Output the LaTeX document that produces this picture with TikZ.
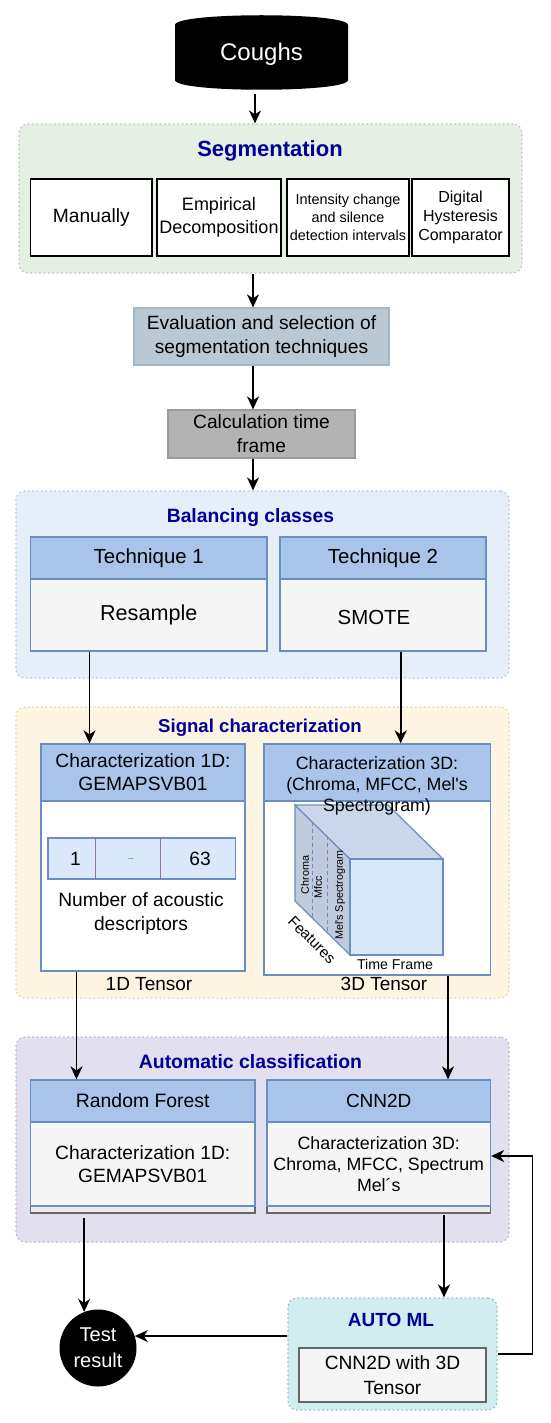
\documentclass[tikz,border=0pt]{standalone}
\usepackage{fontspec}
\setmainfont{Liberation Sans}
\usetikzlibrary{arrows.meta}
\newcommand\fz[2]{\fontsize{#1}{#2}\selectfont}
\definecolor{ttlblue}{HTML}{000099}
\definecolor{segfill}{HTML}{E6EFE3}
\definecolor{segline}{HTML}{B9C7B6}
\definecolor{balfill}{HTML}{E6EEFA}
\definecolor{balline}{HTML}{B4C3DA}
\definecolor{sigfill}{HTML}{FDF5E2}
\definecolor{sigline}{HTML}{DDD3B6}
\definecolor{autofill}{HTML}{E2E0EF}
\definecolor{autoline}{HTML}{B6B3CB}
\definecolor{mlfill}{HTML}{D0EDEF}
\definecolor{mlline}{HTML}{8EBFC3}
\definecolor{hdrfill}{HTML}{A9C4EB}
\definecolor{hdrline}{HTML}{6C8EBF}
\definecolor{bodyfill}{HTML}{F5F5F5}
\definecolor{evalfill}{HTML}{BAC8D3}
\definecolor{evalline}{HTML}{A5B6C4}
\definecolor{calcfill}{HTML}{B3B3B3}
\definecolor{calcline}{HTML}{9A9A9A}
\definecolor{lightblue}{HTML}{DAE8FC}
\definecolor{cubetop}{HTML}{CAD7EB}
\definecolor{cubeleft}{HTML}{BFCADC}
\definecolor{divline}{HTML}{9673A6}
\definecolor{darkgray}{HTML}{666666}
\definecolor{stripfill}{HTML}{EDEDED}
\begin{document}
\begin{tikzpicture}[x=1pt,y=-1pt,
  cont/.style={rounded corners=9pt, line width=1.2pt, dash pattern=on 1pt off 3.4pt, line cap=round, inner sep=0pt},
  ttl/.style={text=ttlblue, inner sep=0pt},
  sbox/.style={draw=black, line width=1.5pt, fill=white, minimum height=77pt, align=center, inner sep=0pt},
  hdr/.style={draw=hdrline, fill=hdrfill, line width=1.3pt, align=center, inner sep=0pt},
  bdy/.style={draw=hdrline, fill=bodyfill, line width=1.3pt, align=center, inner sep=0pt},
  wbdy/.style={draw=hdrline, fill=white, line width=1.3pt, align=center, inner sep=0pt},
  strip/.style={draw=darkgray, fill=stripfill, line width=1.3pt, inner sep=0pt},
  txt/.style={align=center, inner sep=0pt},
  cubeline/.style={draw=hdrline, line width=1.2pt},
  arr/.style={-{Stealth[length=13pt,width=12pt,inset=4pt]}, line width=1.6pt, black}
]
\useasboundingbox (0,0) rectangle (550,1423);
\fill[white] (0,0) rectangle (550,1423);

% x positions of vertical connectors
\coordinate (xa) at (253,0);
\coordinate (xb) at (89.5,0);
\coordinate (xc) at (400.7,0);
\coordinate (xd) at (76.5,0);
\coordinate (xe) at (448,0);
\coordinate (xg) at (444,0);
\coordinate (fb) at (532.6,0);

% Coughs
\fill[black] (175,25) .. controls (175,12) and (348,12) .. (348,25) -- (348,80) .. controls (348,93) and (175,93) .. (175,80) -- cycle;
\node[minimum width=173pt, minimum height=79pt, inner sep=0pt, text=white, font=\fz{24}{29}] (coughs) at (261.5,54.5) {Coughs};

% Segmentation
\node[cont, fill=segfill, draw=segline, minimum width=503pt, minimum height=149pt] (seg) at (270.5,198.5) {};
\node[ttl, font={\fz{22}{26}\bfseries}] (segt) at (270,151) {Segmentation};
\node[sbox, minimum width=121.5pt, font=\fz{19.2}{24}] (man) at (91.25,217.5) {Manually};
\node[sbox, minimum width=124pt, font=\fz{18}{22.7}] (emp) at (219,217.5) {Empirical\\Decomposition};
\node[sbox, minimum width=122pt, font=\fz{14.4}{18}] (int) at (348,217.5) {Intensity change\\and silence\\detection intervals};
\node[sbox, minimum width=97pt, font=\fz{16}{19.3}] (dig) at (460.5,217.5) {Digital\\Hysteresis\\Comparator};

% Evaluation / calculation
\node[fill=evalfill, draw=evalline, line width=1.2pt, minimum width=255pt, minimum height=57pt, txt, font=\fz{19.2}{24}] (eval) at (261.5,336.5) {Evaluation and selection of\\segmentation techniques};
\node[fill=calcfill, draw=calcline, line width=1.2pt, minimum width=187pt, minimum height=48pt, txt, font=\fz{19.2}{24}] (calc) at (261.5,434) {Calculation time\\frame};

% Balancing classes
\node[cont, fill=balfill, draw=balline, minimum width=493pt, minimum height=187pt] (bal) at (262.5,584.5) {};
\node[ttl, font={\fz{19.3}{23}\bfseries}] (balt) at (250.5,518) {Balancing classes};
\node[hdr, minimum width=236.5pt, minimum height=42pt, font=\fz{20.4}{24}] (t1h) at (148.75,558) {Technique 1};
\node[bdy, minimum width=236.5pt, minimum height=72pt, font=\fz{21.6}{26}] (t1b) at (148.75,615) {Resample};
\node[hdr, minimum width=206pt, minimum height=42pt, font=\fz{20.4}{24}] (t2h) at (383,558) {Technique 2};
\node[bdy, minimum width=206pt, minimum height=72pt] (t2b) at (383,615) {};
\node[txt, font=\fz{20.4}{24}] (smote) at (374,617) {SMOTE};

% Signal characterization
\node[cont, fill=sigfill, draw=sigline, minimum width=493pt, minimum height=291pt] (sig) at (262.5,852.5) {};
\node[ttl, font={\fz{18.6}{22}\bfseries}] (sigt) at (260,728) {Signal characterization};

\node[hdr, minimum width=204pt, minimum height=57pt, font=\fz{19.2}{23}] (c1h) at (143,772.5) {Characterization 1D:\\GEMAPSVB01};
\node[wbdy, minimum width=204pt, minimum height=170pt] (c1b) at (143,886) {};
\node[draw=hdrline, fill=lightblue, line width=1.2pt, minimum width=187.5pt, minimum height=41pt, inner sep=0pt] (arrbox) at (141.75,858.5) {};
\draw[divline, line width=1pt] (95.4,838) -- (95.4,879);
\draw[divline, line width=1pt] (160.7,838) -- (160.7,879);
\node[txt, font=\fz{19.2}{23}] (n1) at (75.4,858.5) {1};
\node[txt, font=\fz{7}{8}] (ndots) at (131,859) {...};
\node[txt, font=\fz{19.2}{23}] (n63) at (200,858.5) {63};
\node[txt, font=\fz{19.2}{24}] (nac) at (141,914) {Number of acoustic\\descriptors};
\node[txt, font=\fz{19}{23}] (t1d) at (149,984) {1D Tensor};

\node[hdr, minimum width=226.5pt, minimum height=57pt] (c3h) at (377.25,772.5) {};
\node[wbdy, minimum width=226.5pt, minimum height=174pt] (c3b) at (377.25,888) {};
% cube
\filldraw[cubeline, fill=cubeleft] (295,805) -- (350,859) -- (350,955) -- (295,901) -- cycle;
\filldraw[cubeline, fill=cubetop] (295,805) -- (388,805) -- (443,859) -- (350,859) -- cycle;
\filldraw[cubeline, fill=lightblue] (350,859) rectangle (443,955);
\draw[hdrline, line width=1pt, dash pattern=on 4pt off 3pt] (312,821.7) -- (312,917.7);
\draw[hdrline, line width=1pt, dash pattern=on 4pt off 3pt] (327,836.4) -- (327,932.4);
\node[txt, rotate=90, font=\fz{10.8}{13}] (chroma) at (305,875) {Chroma};
\node[txt, rotate=90, font=\fz{10.8}{13}] (mfcc) at (318,887) {Mfcc};
\node[txt, rotate=90, font=\fz{10.8}{13}] (melspec) at (340,895) {Mel\textquotesingle s Spectrogram};
\node[txt, rotate=-45, font=\fz{15.2}{18}] (feat) at (312,940) {Features};
\node[txt, font=\fz{14.2}{17}] (tframe) at (395,964) {Time Frame};
\node[txt, font=\fz{17.8}{21}] (c3txt) at (377,786) {Characterization 3D:\\(Chroma, MFCC, Mel\textquotesingle s\\Spectrogram)};
\node[txt, font=\fz{19}{23}] (t3d) at (384,984) {3D Tensor};

% Automatic classification
\node[cont, fill=autofill, draw=autoline, minimum width=493pt, minimum height=205pt] (auto) at (262.5,1139.5) {};
\node[ttl, font={\fz{19.4}{23}\bfseries}] (autot) at (250.5,1062) {Automatic classification};
\node[strip, minimum width=224.5pt, minimum height=7pt] (rfs) at (142.75,1209.5) {};
\node[hdr, minimum width=224.5pt, minimum height=42pt, font=\fz{19.4}{23}] (rfh) at (142.75,1101) {Random Forest};
\node[bdy, minimum width=224.5pt, minimum height=84pt, font=\fz{19.2}{23}] (rfb) at (142.75,1164) {Characterization 1D:\\GEMAPSVB01};
\node[strip, minimum width=223.5pt, minimum height=7pt] (cnns) at (378.75,1209.5) {};
\node[hdr, minimum width=223.5pt, minimum height=42pt, font=\fz{19}{23}] (cnnh) at (378.75,1101) {CNN2D};
\node[bdy, minimum width=223.5pt, minimum height=84pt, font=\fz{17.8}{21}] (cnnb) at (378.75,1164) {Characterization 3D:\\Chroma, MFCC, Spectrum\\Mel´s};

% Test result
\node[circle, fill=black, minimum size=77pt, inner sep=0pt, text=white, align=center, font=\fz{20}{26}] (test) at (98,1348) {Test\\result};

% AUTO ML
\node[cont, fill=mlfill, draw=mlline, minimum width=209pt, minimum height=112pt] (automl) at (392.5,1354) {};
\node[ttl, font={\fz{19}{23}\bfseries}] (automlt) at (391,1320) {AUTO ML};
\node[fill=bodyfill, draw=darkgray, line width=1.3pt, minimum width=187pt, minimum height=54pt, txt, font=\fz{19.2}{24.5}] (cnnml) at (392.5,1375) {CNN2D with 3D\\Tensor};

% connectors
\draw[arr] ([xshift=-6.5pt]coughs.south) -- ([xshift=-15.5pt]seg.north);
\draw[arr] (seg.south -| xa) -- (eval.north -| xa);
\draw[arr] (eval.south -| xa) -- (calc.north -| xa);
\draw[arr] (calc.south -| xa) -- (bal.north -| xa);
\draw[arr] (t1b.south -| xb) -- (c1h.north -| xb);
\draw[arr] (t2b.south -| xc) -- (c3h.north -| xc);
\draw[arr] (c1b.south -| xd) -- (rfh.north -| xd);
\draw[arr] (c3b.south -| xe) -- (cnnh.north -| xe);
\draw[arr, shorten <=4pt] (rfs.south -| test.111) -- (test.111);
\draw[arr, shorten <=1pt] (cnns.south -| xg) -- (automl.north -| xg);
\draw[arr] (automl.west |- test.18) -- (test.18);
\draw[arr] (automl.east) -- (automl.east -| fb) |- ([yshift=8pt]cnnb.east);
\end{tikzpicture}
\end{document}
